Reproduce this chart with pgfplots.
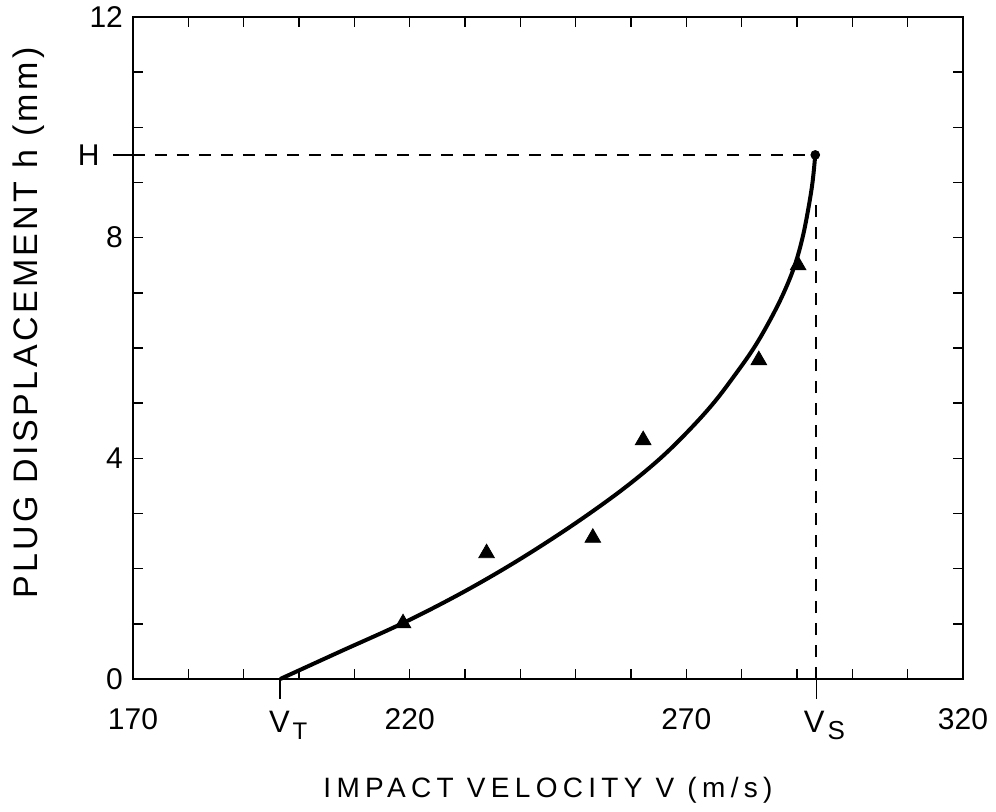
\documentclass[border=0pt]{standalone}
\usepackage{fontspec}
\setmainfont{Liberation Sans}
\newfontfamily\labelfont[LetterSpace=19]{Liberation Sans}
\newfontfamily\ylabelfont[LetterSpace=10]{Liberation Sans}
\usepackage{pgfplots}
\pgfplotsset{compat=1.18}

\begin{document}
\begin{tikzpicture}
\begin{axis}[
    at={(0,0)}, anchor=south west,
    scale only axis,
    width=415pt, height=331pt,
    xmin=170, xmax=320,
    ymin=0, ymax=12,
    xtick={170,220,270,320},
    minor xtick={180,190,...,310},
    ytick={0,4,8,12},
    minor ytick={1,2,3,5,6,7,9,10,11},
    tick align=inside,
    major tick length=5pt, minor tick length=5pt,
    every tick/.style={black, line width=0.8pt},
    axis line style={line width=1pt},
    /pgf/number format/assume math mode=true,
    /pgf/number format/1000 sep={},
    ticklabel style={font=\fontsize{15}{18}\selectfont},
    xticklabel style={yshift=-11pt},
    yticklabel style={xshift=-1.5pt},
    clip=false,
]
% dashed guide lines to the end point (V_S, H)
\addplot[black, line width=0.9pt, dash pattern=on 6pt off 5pt]
    coordinates {(170,9.5) (293.3,9.5)};
\addplot[black, line width=0.9pt, dash pattern=on 6pt off 5pt]
    coordinates {(293.5,0) (293.5,8.6)};

% fitted curve
\addplot[black, line width=2pt, smooth, tension=0.6] coordinates {
    (196.6,0.0) (207.5,0.5) (218.5,1.0) (228.3,1.5) (237.1,2.0)
    (245.1,2.5) (252.5,3.0) (259.3,3.5) (265.3,4.0) (270.4,4.5)
    (274.9,5.0) (278.7,5.5) (282.2,6.0) (285.1,6.5) (287.6,7.0)
    (289.6,7.5) (291.0,8.0) (292.0,8.5) (292.8,9.0) (293.3,9.5)
};
\addplot[only marks, mark=*, mark size=2.2pt, black]
    coordinates {(293.3,9.5)};

% measured points
\addplot[only marks, mark=triangle*, mark size=4.5pt, black] coordinates {
    (218.8,1.01) (233.9,2.28) (253.1,2.56) (262.2,4.33) (283.1,5.78) (290.2,7.50)
};

% outward ticks and labels for V_T, V_S and H
\draw[line width=0.8pt] (axis cs:196.6,0) -- ([yshift=-10pt]axis cs:196.6,0);
\draw[line width=0.8pt] (axis cs:293.5,0) -- ([yshift=-10pt]axis cs:293.5,0);
\draw[line width=0.8pt] (axis cs:170,9.5) -- ([xshift=-10pt]axis cs:170,9.5);
\node[anchor=north, font=\fontsize{15.5}{18}\selectfont, inner sep=0pt]
    at ([yshift=-16pt,xshift=4pt]axis cs:196.6,0) {V\kern1.5pt\raisebox{-3.5pt}{\fontsize{12}{12}\selectfont T}};
\node[anchor=north, font=\fontsize{15.5}{18}\selectfont, inner sep=0pt]
    at ([yshift=-16pt,xshift=4pt]axis cs:293.5,0) {V\kern1.5pt\raisebox{-3.5pt}{\fontsize{13}{13}\selectfont S}};
\node[anchor=east, font=\fontsize{15}{18}\selectfont, inner sep=0pt]
    at ([xshift=-16.5pt]axis cs:170,9.5) {H};
\end{axis}

\node[font=\labelfont\fontsize{14}{16}\selectfont] at (207.5pt,-55.5pt)
    {IMPACT VELOCITY V (m/s)};
\node[rotate=90, font=\ylabelfont\fontsize{17}{20}\selectfont] at (-52pt,178pt)
    {PLUG DISPLACEMENT h (mm)};

\pgfresetboundingbox
\path[use as bounding box] (-66.5pt,-66pt) rectangle (431.5pt,339.5pt);
\end{tikzpicture}
\end{document}
